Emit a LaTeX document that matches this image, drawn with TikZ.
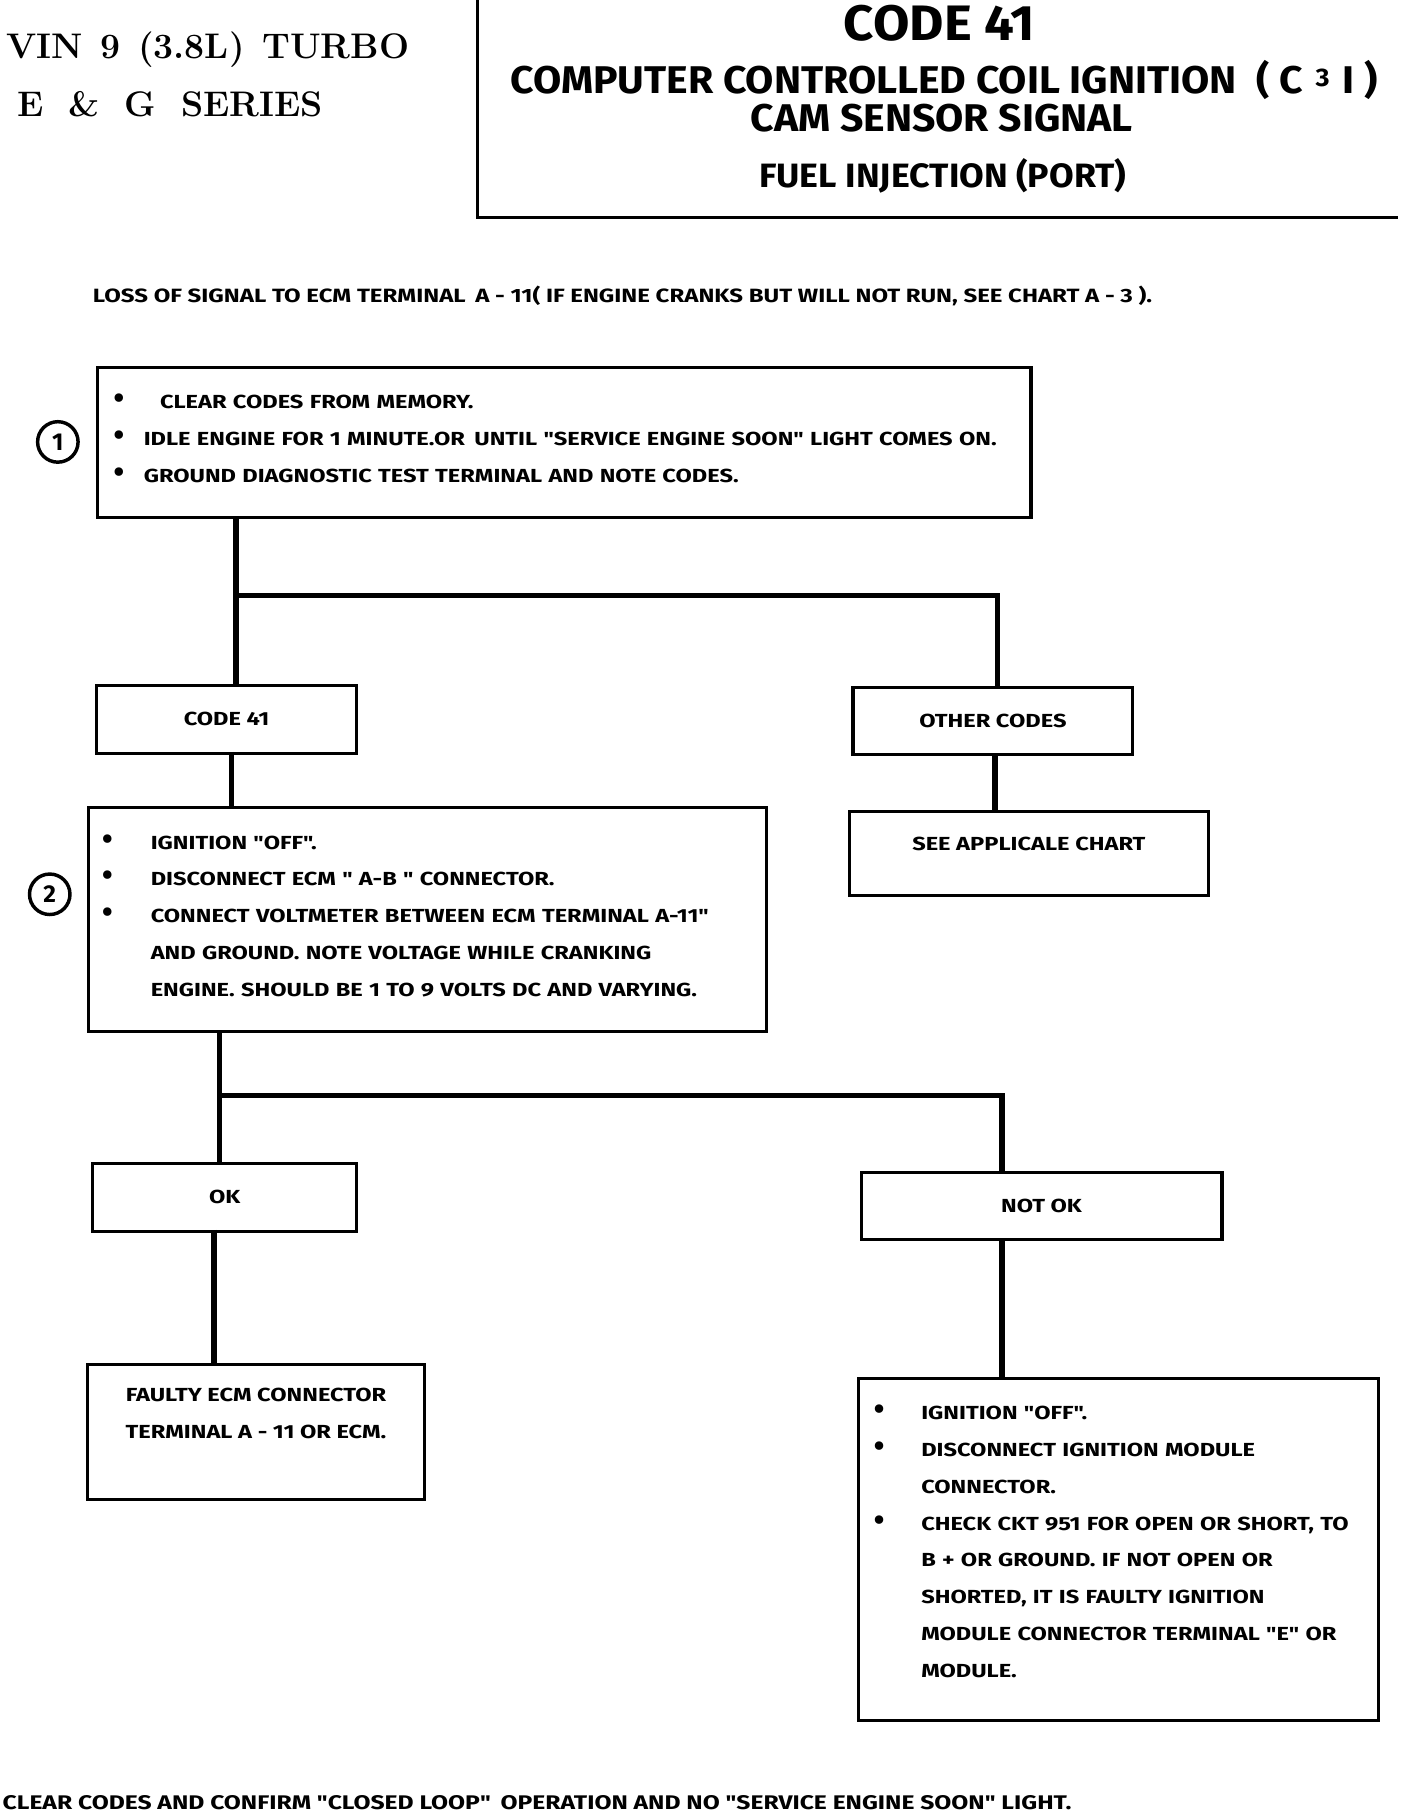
\documentclass[tikz,border=0pt]{standalone}
\usepackage{fontspec}
\newfontfamily\chartfont{Fira Sans}[FakeStretch=1.25]
\newfontfamily\headfont{Fira Sans}[FakeStretch=1.06]
\newfontfamily\titlefont{Fira Sans}
\usetikzlibrary{positioning,calc}

\newcommand{\bul}[1]{\makebox[#1][l]{\titlefont\fontsize{15}{15}\selectfont\textbullet}}
\newcommand{\bulskip}[1]{\hspace*{#1}}

\begin{document}
\begin{tikzpicture}[
  x=0.02cm, y=-0.02cm,
  font=\chartfont\bfseries\fontsize{9.3}{18.1}\selectfont,
  box/.style={
    draw,
    line width=1.5pt,
    anchor=north west,
    align=center,
    inner sep=0pt
  },
  list/.style={box, align=left, inner xsep=0.26cm},
  wire/.style={line width=2.6pt},
  marker/.style={draw, circle, line width=1.7pt, minimum size=0.7cm,
    inner sep=0pt, font=\titlefont\bfseries\fontsize{12}{12}\selectfont},
  heading/.style={inner sep=0pt, font=\headfont\bfseries\fontsize{#1}{#1}\selectfont}
]
\useasboundingbox (0,0) rectangle (1217,1568);

% header
\node[anchor=west, inner sep=0pt, font=\rmfamily\bfseries\fontsize{17.5}{21}\selectfont] (vin) at (5,43)
  {VIN\enspace 9\enspace (3.8L)\enspace TURBO};
\node[anchor=west, inner sep=0pt, font=\rmfamily\bfseries\fontsize{17.5}{21}\selectfont] (series) at (15,90)
  {E\hspace{0.7em}\&\hspace{0.7em}G\hspace{0.7em}SERIES};
\draw[line width=1.6pt] (413,0) -- (413,188) -- (1208,188);

\node[heading=24.5] (code41) at (812,20) {CODE 41};
\node[heading=19] (c3i) at (816,69)
  {COMPUTER CONTROLLED COIL IGNITION\enspace( C\,\,\raisebox{.35ex}{\fontsize{12.5}{12.5}\selectfont 3}\,\,I )};
\node[heading=19] (cam) at (814,102) {CAM SENSOR SIGNAL};
\node[heading=16.6] (fuel) at (815,152) {FUEL INJECTION (PORT)};

\node[anchor=west, inner sep=0pt, font=\chartfont\bfseries\fontsize{9.45}{12}\selectfont] (loss) at (80,256)
  {LOSS OF SIGNAL TO ECM TERMINAL\enspace A - 11( IF ENGINE CRANKS BUT WILL NOT RUN, SEE CHART A - 3 ).};

% step 1
\node[list, inner xsep=0.28cm, text width=15.58cm, minimum height=2.6cm] (clear) at (83,316) {
  \bul{0.8cm}CLEAR CODES FROM MEMORY.\\
  \bul{0.52cm}IDLE ENGINE FOR 1 MINUTE.OR\enspace UNTIL "SERVICE ENGINE SOON" LIGHT COMES ON.\\
  \bul{0.52cm}GROUND DIAGNOSTIC TEST TERMINAL AND NOTE CODES.\\[-14pt]\mbox{}
};
\node[marker] (markone) at (50,382) {1};

\node[box, minimum width=4.5cm, minimum height=1.18cm] (code) at (82,591) {CODE 41};
\node[box, minimum width=4.84cm, minimum height=1.16cm] (other) at (736,593) {OTHER CODES};
\node[box, minimum width=6.2cm, minimum height=1.46cm] (chart) at (733,700) {SEE APPLICALE CHART\\[-8pt]\mbox{}};

% step 2
\node[list, inner xsep=0.24cm, text width=11.24cm, minimum height=3.86cm] (volt) at (75,697) {
  \bul{0.84cm}IGNITION "OFF".\\
  \bul{0.84cm}DISCONNECT ECM " A-B " CONNECTOR.\\
  \bul{0.84cm}CONNECT VOLTMETER BETWEEN ECM TERMINAL A-11"\\
  \bulskip{0.84cm}AND GROUND. NOTE VOLTAGE WHILE CRANKING\\
  \bulskip{0.84cm}ENGINE. SHOULD BE 1 TO 9 VOLTS DC AND VARYING.\\[-14pt]\mbox{}
};
\node[marker] (marktwo) at (43,773) {2};

\node[box, minimum width=4.56cm, minimum height=1.18cm] (ok) at (79,1004) {OK};
\node[box, minimum width=6.24cm, minimum height=1.16cm] (notok) at (743,1012) {NOT OK};

\node[box, minimum width=5.84cm, minimum height=2.34cm] (faulty) at (74,1178)
  {FAULTY ECM CONNECTOR\\TERMINAL A - 11 OR ECM.\\\mbox{}};

\node[list, inner xsep=0.26cm, text width=8.46cm, minimum height=5.92cm] (module) at (741,1190) {
  \bul{0.82cm}IGNITION "OFF".\\
  \bul{0.82cm}DISCONNECT IGNITION MODULE\\
  \bulskip{0.82cm}CONNECTOR.\\
  \bul{0.82cm}CHECK CKT 951 FOR OPEN OR SHORT, TO\\
  \bulskip{0.82cm}B + OR GROUND. IF NOT OPEN OR\\
  \bulskip{0.82cm}SHORTED, IT IS FAULTY IGNITION\\
  \bulskip{0.82cm}MODULE CONNECTOR TERMINAL "E" OR\\
  \bulskip{0.82cm}MODULE.\\[-10pt]\mbox{}
};

\node[anchor=west, inner sep=0pt, font=\chartfont\bfseries\fontsize{9.7}{12}\selectfont] (confirm) at (2,1558)
  {CLEAR CODES AND CONFIRM "CLOSED LOOP"\enspace OPERATION AND NO "SERVICE ENGINE SOON" LIGHT.};

% connectors
\coordinate (forka) at (204,515);
\coordinate (forkar) at (862,515);
\coordinate (codestem) at (200,650);
\coordinate (otherstem) at (860,651);
\coordinate (forkb) at (190,947);
\coordinate (forkbr) at (866,947);
\coordinate (okstem) at (185,1063);

\draw[wire] (clear.south -| forka) -- (code.north -| forka);
\draw[wire] (forka) -- (forkar) -- (other.north -| forkar);
\draw[wire] (codestem) -- (volt.north -| codestem);
\draw[wire] (otherstem) -- (chart.north -| otherstem);
\draw[wire] (volt.south -| forkb) -- (ok.north -| forkb);
\draw[wire] (forkb) -- (forkbr) -- (notok.north -| forkbr);
\draw[wire] (okstem) -- (faulty.north -| okstem);
\draw[wire] (notok.south -| forkbr) -- (module.north -| forkbr);

\end{tikzpicture}
\end{document}
